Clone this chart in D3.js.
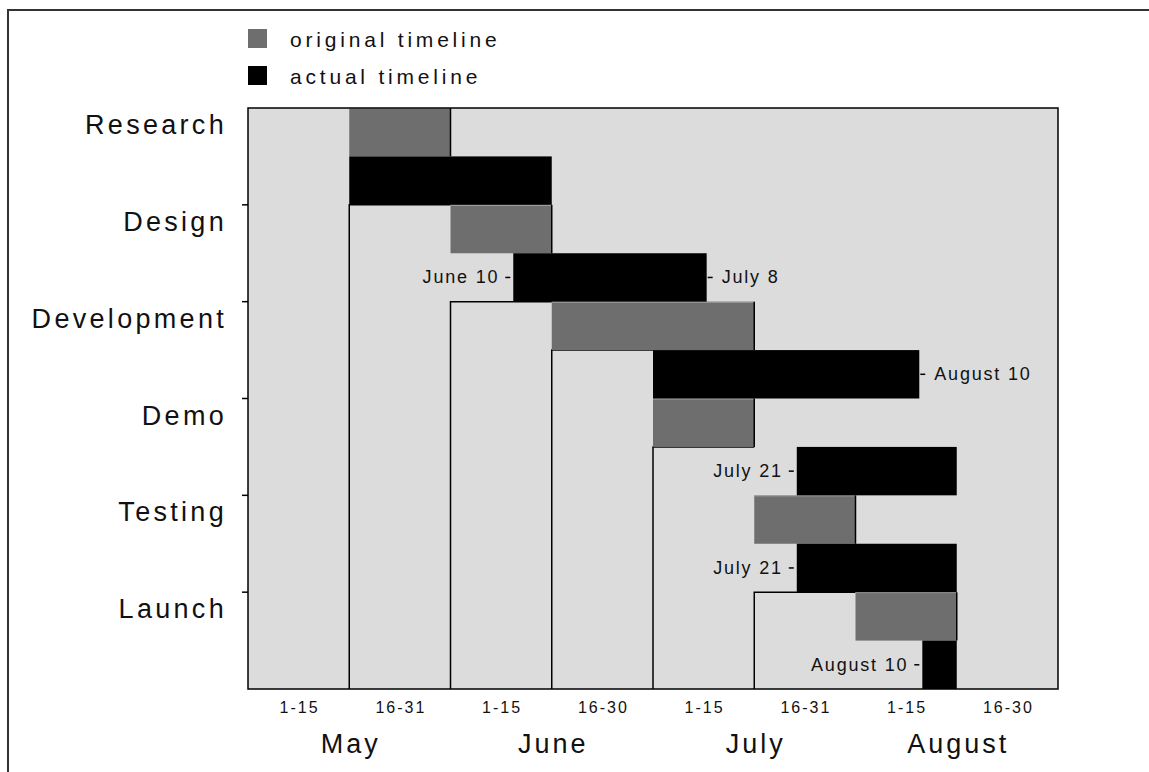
<!DOCTYPE html>
<html>
<head>
<meta charset="utf-8">
<script src="https://cdn.jsdelivr.net/npm/d3@7"></script>
<style>
    body { margin: 0; background: #fff; }
    text { font-family: 'Liberation Sans', Arial, sans-serif; fill: #111; }
</style>
</head>
<body>
<div id="chart"></div>
<script>
// data, x values are in half-month units (0 = May 1, 8 = end of August)

let tasks = ['Research', 'Design', 'Development', 'Demo', 'Testing', 'Launch']

let originalStart = [1, 2, 3, 4, 5, 6]
let originalEnd = [2, 3, 5, 5, 6, 7]

let actualStart = [1, 2.62, 4, 5.42, 5.42, 6.66]
let actualEnd = [3, 4.53, 6.63, 7, 7, 7]

let startLabels = [null, 'June 10', null, 'July 21', 'July 21', 'August 10']
let endLabels = [null, 'July 8', 'August 10', null, null, null]

let halfLabels = ['1-15', '16-31', '1-15', '16-30', '1-15', '16-31', '1-15', '16-30']
let months = ['May', 'June', 'July', 'August']

// staircase of drop lines: half-month boundary and the row (in row units) it starts from
let dropAt = [1, 2, 3, 4, 5]
let dropFrom = [1, 2, 2.5, 3.5, 5]

let legendLabels = ['original timeline', 'actual timeline']

let greyFill = '#6e6e6e', bgFill = '#dcdcdc'

let width = 1149, height = 772
let plotL = 248, plotR = 1058, plotT = 108, plotB = 689

let svg = d3.select('#chart')
.append('svg')
.attr('width', width)
.attr('height', height)

// outer frame, cut by the window on right and bottom
svg.append('rect')
.attr('x', 8).attr('y', 10)
.attr('width', width).attr('height', height)
.attr('fill', 'none')
.style('stroke', '#333')
.style('stroke-width', 2)

let x = d3.scaleLinear()
.domain([0, 8])
.range([plotL, plotR])

let y = d3.scaleBand()
.domain(tasks)
.range([plotT, plotB])

let rowH = y.bandwidth()
let rowY = r => plotT + r * rowH

// plot background
svg.append('rect')
.attr('x', plotL).attr('y', plotT)
.attr('width', plotR - plotL).attr('height', plotB - plotT)
.attr('fill', bgFill)

// staircase lines
let g = svg.append('g').attr('class', 'drops')

dropAt.forEach((d, i) => {
    g.append('path')
    .attr('d', d3.line()([[x(d + 1), rowY(dropFrom[i])], [x(d), rowY(dropFrom[i])], [x(d), plotB]]))
    .attr('fill', 'none')
    .style('stroke', '#000')
    .style('stroke-width', 1.5)
})

// original timeline bars (top half of each row)
let bars = svg.append('g').attr('class', 'bars')

bars.selectAll('.orig')
.data(tasks)
.join('rect')
.attr('class', 'orig')
.attr('x', (d, i) => x(originalStart[i]))
.attr('y', d => y(d))
.attr('width', (d, i) => x(originalEnd[i]) - x(originalStart[i]))
.attr('height', rowH / 2)
.attr('fill', greyFill)

// little bevel on the grey bars
bars.selectAll('.orig-hi')
.data(tasks)
.join('line')
.attr('class', 'orig-hi')
.attr('x1', (d, i) => x(originalStart[i]))
.attr('x2', (d, i) => x(originalEnd[i]))
.attr('y1', d => y(d) + 0.5)
.attr('y2', d => y(d) + 0.5)
.style('stroke', '#a8a8a8')
.style('stroke-width', 1)

bars.selectAll('.orig-edge')
.data(tasks)
.join('line')
.attr('class', 'orig-edge')
.attr('x1', (d, i) => x(originalEnd[i]))
.attr('x2', (d, i) => x(originalEnd[i]))
.attr('y1', d => y(d))
.attr('y2', d => y(d) + rowH / 2)
.style('stroke', '#000')
.style('stroke-width', 1.5)

// actual timeline bars (bottom half)
bars.selectAll('.actual')
.data(tasks)
.join('rect')
.attr('class', 'actual')
.attr('x', (d, i) => x(actualStart[i]))
.attr('y', d => y(d) + rowH / 2)
.attr('width', (d, i) => x(actualEnd[i]) - x(actualStart[i]))
.attr('height', rowH / 2)
.attr('fill', '#000')

// date labels next to the actual bars
let lab = svg.append('g').attr('class', 'date-labels')

tasks.forEach((t, i) => {
    let cy = y(t) + rowH * 0.75

    if (startLabels[i]) {
        let x0 = x(actualStart[i])
        lab.append('line')
        .attr('x1', x0 - 8).attr('x2', x0 - 3)
        .attr('y1', cy).attr('y2', cy)
        .style('stroke', '#000').style('stroke-width', 1.5)

        lab.append('text')
        .attr('x', x0 - 14)
        .attr('y', cy + 6)
        .attr('text-anchor', 'end')
        .style('font-size', '18px')
        .style('letter-spacing', '1.8px')
        .text(startLabels[i])
    }

    if (endLabels[i]) {
        let x1 = x(actualEnd[i])
        lab.append('line')
        .attr('x1', x1 + 1).attr('x2', x1 + 6)
        .attr('y1', cy).attr('y2', cy)
        .style('stroke', '#000').style('stroke-width', 1.5)

        lab.append('text')
        .attr('x', x1 + 15)
        .attr('y', cy + 6)
        .style('font-size', '18px')
        .style('letter-spacing', '1.8px')
        .text(endLabels[i])
    }
})

// plot frame
svg.append('rect')
.attr('x', plotL).attr('y', plotT)
.attr('width', plotR - plotL).attr('height', plotB - plotT)
.attr('fill', 'none')
.style('stroke', '#000')
.style('stroke-width', 1.5)

// y axis: ticks on row boundaries, labels near top of each row
let yAxis = svg.append('g').attr('class', 'y-axis')

yAxis.selectAll('.tick')
.data(tasks.slice(1))
.join('line')
.attr('class', 'tick')
.attr('x1', plotL - 6).attr('x2', plotL)
.attr('y1', d => y(d)).attr('y2', d => y(d))
.style('stroke', '#000')
.style('stroke-width', 1.5)

yAxis.selectAll('text')
.data(tasks)
.join('text')
.attr('x', 227)
.attr('y', d => y(d) + 26)
.attr('text-anchor', 'end')
.style('font-size', '27px')
.style('letter-spacing', '3.3px')
.text(d => d)

// x axis: half-month labels and month names
let xAxis = svg.append('g').attr('class', 'x-axis')

xAxis.selectAll('.half')
.data(halfLabels)
.join('text')
.attr('class', 'half')
.attr('x', (d, i) => x(i + 0.5) + 1)
.attr('y', 713)
.attr('text-anchor', 'middle')
.style('font-size', '16px')
.style('letter-spacing', '2px')
.text(d => d)

xAxis.selectAll('.month')
.data(months)
.join('text')
.attr('class', 'month')
.attr('x', (d, i) => x(i * 2 + 1) + 1.5)
.attr('y', 753)
.attr('text-anchor', 'middle')
.style('font-size', '27px')
.style('letter-spacing', '3px')
.text(d => d)

// legend
let legend = svg.append('g').attr('class', 'legend')

legend.selectAll('rect')
.data(legendLabels)
.join('rect')
.attr('x', 248)
.attr('y', (d, i) => 29 + i * 37)
.attr('width', 19)
.attr('height', 19)
.attr('fill', (d, i) => i == 0 ? greyFill : '#000')

legend.selectAll('text')
.data(legendLabels)
.join('text')
.attr('x', 290)
.attr('y', (d, i) => 47 + i * 37)
.style('font-size', '21px')
.style('letter-spacing', '3.8px')
.text(d => d)
</script>
</body>
</html>
